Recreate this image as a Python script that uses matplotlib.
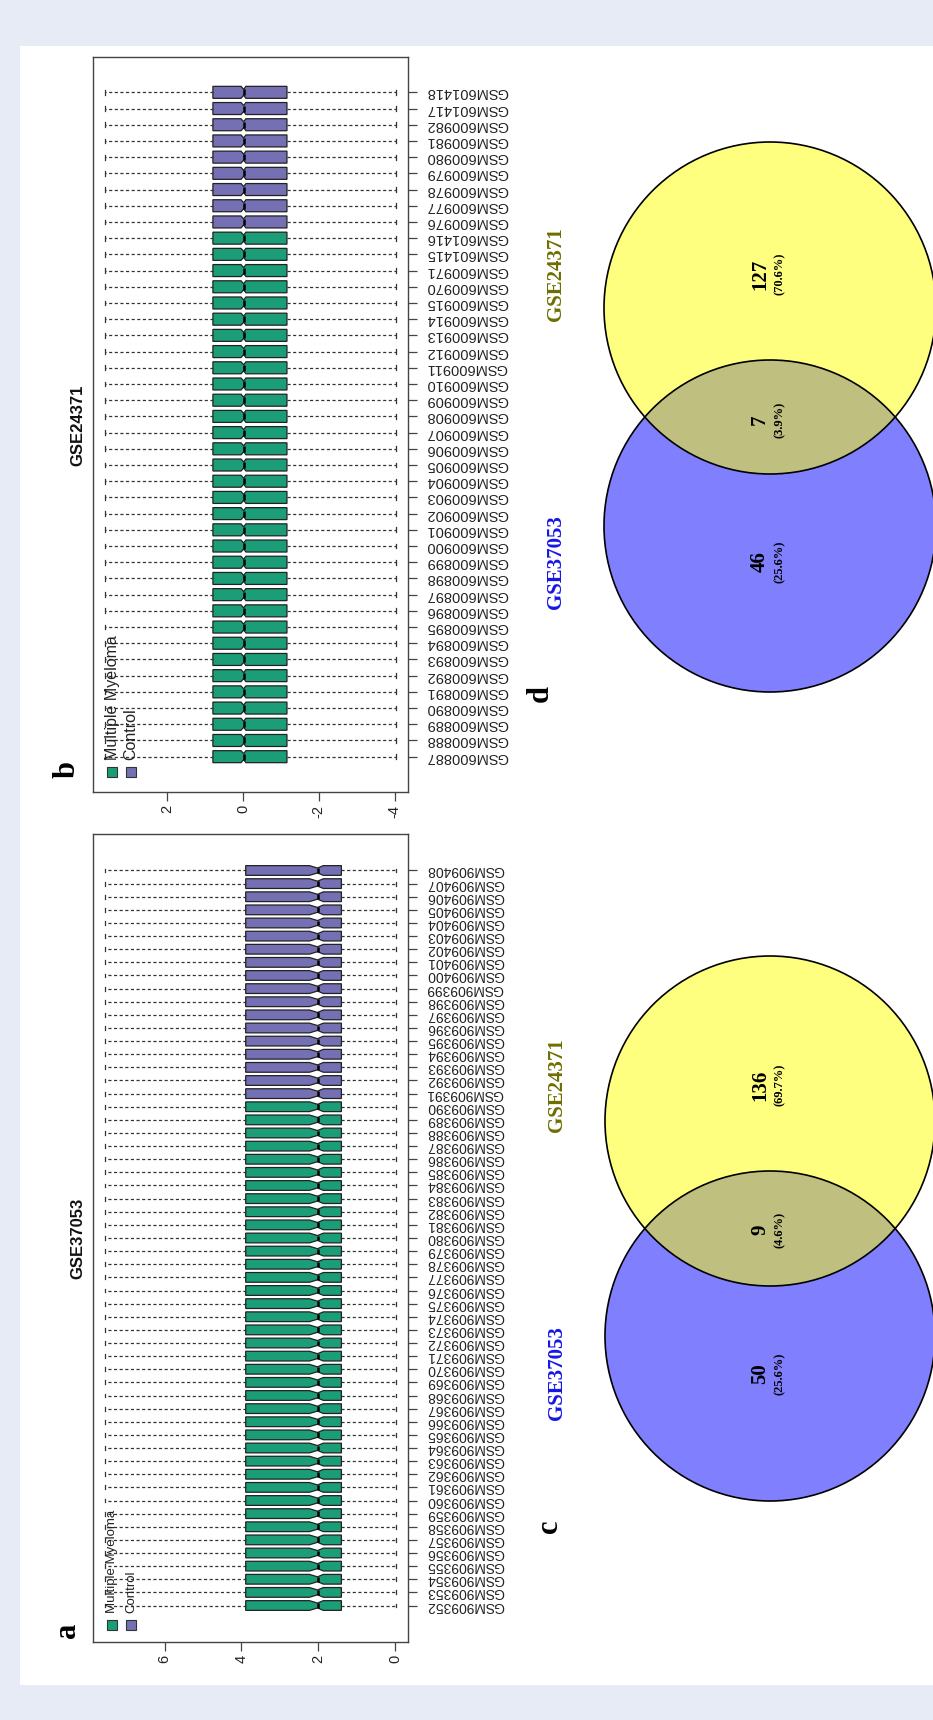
import matplotlib
matplotlib.use("Agg")
import matplotlib.pyplot as plt
from matplotlib.patches import Circle, Rectangle

# ---------------- data ----------------
gse37053_samples = [
    "GSM909352", "GSM909353", "GSM909354", "GSM909355", "GSM909356", "GSM909357",
    "GSM909358", "GSM909359", "GSM909360", "GSM909361", "GSM909362", "GSM909363",
    "GSM909364", "GSM909365", "GSM909366", "GSM909367", "GSM909368", "GSM909369",
    "GSM909370", "GSM909371", "GSM909372", "GSM909373", "GSM909374", "GSM909375",
    "GSM909376", "GSM909377", "GSM909378", "GSM909379", "GSM909380", "GSM909381",
    "GSM909382", "GSM909383", "GSM909384", "GSM909385", "GSM909386", "GSM909387",
    "GSM909388", "GSM909389", "GSM909390", "GSM909391", "GSM909392", "GSM909393",
    "GSM909394", "GSM909395", "GSM909396", "GSM909397", "GSM909398", "GSM909399",
    "GSM909400", "GSM909401", "GSM909402", "GSM909403", "GSM909404", "GSM909405",
    "GSM909406", "GSM909407", "GSM909408"]
gse37053_n_mm = 39          # first 39 arrays = Multiple Myeloma, rest = Control

gse24371_samples = [
    "GSM600887", "GSM600888", "GSM600889", "GSM600890", "GSM600891", "GSM600892",
    "GSM600893", "GSM600894", "GSM600895", "GSM600896", "GSM600897", "GSM600898",
    "GSM600899", "GSM600900", "GSM600901", "GSM600902", "GSM600903", "GSM600904",
    "GSM600905", "GSM600906", "GSM600907", "GSM600908", "GSM600909", "GSM600910",
    "GSM600911", "GSM600912", "GSM600913", "GSM600914", "GSM600915", "GSM600970",
    "GSM600971", "GSM601415", "GSM601416", "GSM600976", "GSM600977", "GSM600978",
    "GSM600979", "GSM600980", "GSM600981", "GSM600982", "GSM601417", "GSM601418"]
gse24371_n_mm = 33

# box statistics (normalised arrays -> the same for every sample)
gse37053_stats = dict(whislo=-0.03, q1=1.40, cilo=1.87, med=2.02, cihi=2.23, q3=3.89, whishi=7.56)
gse24371_stats = dict(whislo=-4.04, q1=-1.16, cilo=-0.08, med=-0.02, cihi=0.05, q3=0.79, whishi=3.64)

gse37053_ticks = [0, 2, 4, 6]
gse24371_ticks = [-4, -2, 0, 2]

groups = ["Multiple Myeloma", "Control"]
group_colors = ["#1B9E77", "#7570B3"]

venn_sets = ["GSE37053", "GSE24371"]
venn_c_counts = [50, 9, 136]   # GSE37053 only, shared, GSE24371 only
venn_d_counts = [46, 7, 127]

# ---------------- figure ----------------
W, H = 933, 1720
fig = plt.figure(figsize=(W / 100, H / 100), dpi=100)
fig.patch.set_facecolor("#E7EBF5")
SANS = "Liberation Sans"
SERIF = "Liberation Serif"


def fx(x):
    return x / W


def fy(y):
    return 1 - y / H


def ax_px(l, t, r, b):
    return fig.add_axes([fx(l), fy(b), (r - l) / W, (b - t) / H])


fig.add_artist(Rectangle((fx(20), fy(1685)), (933 - 20) / W, (1685 - 46) / H,
                         transform=fig.transFigure, facecolor="white",
                         edgecolor="none", zorder=0))


def box_panel(box, samples, n_mm, stats, ticks, title, letter, tick_fs, leg_fs,
              title_y, letter_y, leg_y):
    l, t, r, b = box
    ax = ax_px(l, t, r, b)
    n = len(samples)
    pos = list(range(1, n + 1))
    bstats = []
    for s in samples:
        d = dict(stats)
        d["label"] = s
        bstats.append(d)
    res = ax.bxp(bstats, positions=pos, widths=0.74, orientation="horizontal",
                 shownotches=True, patch_artist=True, showfliers=False,
                 capwidths=0.3,
                 boxprops=dict(edgecolor="#222222", linewidth=0.9),
                 whiskerprops=dict(color="#333333", linestyle=(0, (2.5, 2.0)), linewidth=0.9),
                 capprops=dict(color="#333333", linewidth=0.9),
                 medianprops=dict(color="black", linewidth=1.8))
    for i, p in enumerate(res["boxes"]):
        p.set_facecolor(group_colors[0] if i < n_mm else group_colors[1])
    pad = 0.04 * n
    ax.set_ylim(0.5 - pad, n + 0.5 + pad)
    rng = stats["whishi"] - stats["whislo"]
    ax.set_xlim(stats["whishi"] + 0.04 * rng, stats["whislo"] - 0.04 * rng)

    ax.set_xticks(ticks)
    ax.set_xticklabels([str(v) for v in ticks], rotation=90, fontsize=10.5,
                       family=SANS, color="#222222")
    ax.tick_params(axis="x", length=6.5, width=0.9, pad=2.5, color="#444444")

    ax.yaxis.tick_right()
    ax.set_yticks(pos)
    ax.set_yticklabels(samples)
    ax.tick_params(axis="y", length=6.5, width=0.9, pad=6.5, color="#444444")
    for tk in ax.yaxis.get_major_ticks():
        lab = tk.label2
        lab.set_rotation(180)
        lab.set_rotation_mode("anchor")
        lab.set_ha("right")
        lab.set_va("center")
        lab.set_fontsize(tick_fs)
        lab.set_family(SANS)
        lab.set_color("#222222")
    for sp in ax.spines.values():
        sp.set_color("#444444")
        sp.set_linewidth(1.0)

    # title (rotated with the figure)
    fig.text(fx(78), fy(title_y), title, rotation=90, ha="center", va="center",
             fontsize=12, fontweight="bold", family=SANS, color="#111111")
    # panel letter
    fig.text(fx(67), fy(letter_y), letter, rotation=90, ha="center", va="center",
             fontsize=22, fontweight="bold", family=SERIF, color="black")
    # legend
    for gx, g, c in zip([112, 131], groups, group_colors):
        s = 10
        fig.add_artist(Rectangle((fx(gx - s / 2), fy(leg_y + s / 2)), s / W, s / H,
                                 transform=fig.transFigure, facecolor=c,
                                 edgecolor="#333333", linewidth=0.8))
        fig.text(fx(gx), fy(leg_y - 12), g, rotation=90, ha="center", va="bottom",
                 fontsize=leg_fs, family=SANS, color="#222222")
    return ax


box_panel((93, 834, 408, 1642), gse37053_samples, gse37053_n_mm, gse37053_stats,
          gse37053_ticks, "GSE37053", "a", 10, 9.5, 1238, 1630, 1625)
box_panel((93, 57, 408, 792), gse24371_samples, gse24371_n_mm, gse24371_stats,
          gse24371_ticks, "GSE24371", "b", 10.5, 11.5, 425, 770, 772)


def venn_panel(box, counts, c_blue, c_yel, r, lab_pos, num_pos, letter, letter_pos):
    l, t, rr, b = box
    ax = ax_px(l, t, rr, b)
    ax.set_xlim(l, rr)
    ax.set_ylim(b, t)
    ax.axis("off")
    ax.add_patch(Circle(c_blue, r, facecolor="#8080FF", edgecolor="none"))
    ax.add_patch(Circle(c_yel, r, facecolor=(1, 1, 0, 0.5), edgecolor="none"))
    ax.add_patch(Circle(c_blue, r, facecolor="none", edgecolor="black", linewidth=1.2))
    ax.add_patch(Circle(c_yel, r, facecolor="none", edgecolor="black", linewidth=1.2))
    total = sum(counts)
    for cnt, (x, y) in zip(counts, num_pos):
        ax.text(x, y, str(cnt), rotation=90, ha="center", va="center",
                fontsize=15, fontweight="bold", family=SERIF)
        ax.text(x + 20, y, "(%.1f%%)" % (100 * cnt / total), rotation=90,
                ha="center", va="center", fontsize=9, fontweight="bold", family=SERIF)
    for name, col, (x, y) in zip(venn_sets, ["#1515E8", "#6E6E00"], lab_pos):
        ax.text(x, y, name, rotation=90, ha="center", va="center", fontsize=15,
                fontweight="bold", family=SERIF, color=col)
    fig.text(fx(letter_pos[0]), fy(letter_pos[1]), letter, rotation=90, ha="center",
             va="center", fontsize=22, fontweight="bold", family=SERIF)


venn_panel((520, 900, 933, 1560), venn_c_counts, (770, 1336), (770, 1121), 165,
           [(557, 1373), (557, 1085)], [(760, 1374), (760, 1230), (760, 1085)],
           "c", (550, 1526))
venn_panel((520, 60, 933, 720), venn_d_counts, (770, 526), (770, 308), 166,
           [(556, 562), (556, 274)], [(760, 562), (760, 420), (760, 274)],
           "d", (540, 693))

fig.savefig("out.png", dpi=100, facecolor=fig.get_facecolor())
